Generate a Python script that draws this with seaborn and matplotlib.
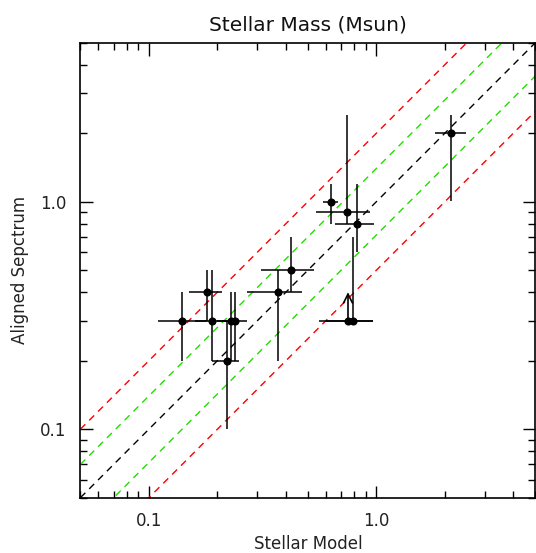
import numpy as np
import pandas as pd
import seaborn as sns
import matplotlib.pyplot as plt
from matplotlib.ticker import FixedLocator, FixedFormatter, LogLocator, NullFormatter

# values
model = [0.14, 0.18, 0.19, 0.22, 0.23, 0.24, 0.37, 0.42, 0.63, 0.74, 0.82, 0.75, 0.79, 2.13]
spec = [0.30, 0.40, 0.30, 0.20, 0.30, 0.30, 0.40, 0.50, 1.00, 0.90, 0.80, 0.30, 0.30, 2.00]
model_lo = [0.11, 0.15, 0.16, 0.19, 0.21, 0.20, 0.27, 0.31, 0.585, 0.54, 0.66, 0.56, 0.60, 1.80]
model_hi = [0.18, 0.21, 0.24, 0.25, 0.25, 0.27, 0.47, 0.53, 0.68, 0.94, 0.98, 0.97, 0.97, 2.47]
spec_lo = [0.20, 0.30, 0.20, 0.10, 0.20, 0.20, 0.20, 0.40, 0.80, 0.80, 0.60, 0.30, 0.30, 1.01]
spec_hi = [0.40, 0.50, 0.50, 0.30, 0.40, 0.40, 0.50, 0.70, 1.20, 2.40, 1.20, 0.30, 0.70, 2.40]

# lower limit (arrow)
limit_x = [0.75]
limit_from = [0.30]
limit_to = [0.40]

# one-to-one line and offsets
line_factors = [1.0, 1.4, 1 / 1.4, 2.0, 0.5]
line_colors = ['black', '#22dd00', '#22dd00', 'red', 'red']

df = pd.DataFrame({'model': model, 'spec': spec})

sns.set_style('ticks')
plt.rcParams['font.family'] = ['DejaVu Sans']
plt.rcParams['text.color'] = 'black'
plt.rcParams['axes.labelcolor'] = 'black'

fig, ax = plt.subplots(figsize=(5.36, 5.53), dpi=100)
fig.subplots_adjust(left=0.150, right=0.999, bottom=0.1, top=0.923)

grid = np.array([0.05, 5.0])
for f, c in zip(line_factors, line_colors):
    sns.lineplot(x=grid, y=grid * f, ax=ax, color=c, lw=1.0,
                 linestyle=(0, (5, 4)), zorder=1)

xerr = [np.array(model) - np.array(model_lo), np.array(model_hi) - np.array(model)]
yerr = [np.array(spec) - np.array(spec_lo), np.array(spec_hi) - np.array(spec)]
ax.errorbar(model, spec, xerr=xerr, yerr=yerr, fmt='none', ecolor='black',
            elinewidth=1.1, capsize=0, zorder=2)

sns.scatterplot(data=df, x='model', y='spec', ax=ax, color='black', s=34,
                edgecolor='black', linewidth=0, zorder=3)

for lx, lf, lt in zip(limit_x, limit_from, limit_to):
    ax.annotate('', xy=(lx, lt), xytext=(lx, lf),
                arrowprops=dict(arrowstyle='->', color='black', lw=1.2,
                                mutation_scale=16, shrinkA=0, shrinkB=0))

ax.set_xscale('log')
ax.set_yscale('log')
ax.set_xlim(0.05, 5)
ax.set_ylim(0.05, 5)

for axis in (ax.xaxis, ax.yaxis):
    axis.set_major_locator(FixedLocator([0.1, 1.0]))
    axis.set_major_formatter(FixedFormatter(['0.1', '1.0']))
    axis.set_minor_locator(LogLocator(base=10, subs=np.arange(2, 10)))
    axis.set_minor_formatter(NullFormatter())

ax.tick_params(which='both', direction='in', top=True, right=True,
               labelsize=12, colors='black', labelcolor='#222222', width=1)
ax.tick_params(which='major', length=9, pad=10)
ax.tick_params(which='minor', length=5)
for s in ax.spines.values():
    s.set_linewidth(1.2)
    s.set_color('black')

ax.set_xlabel('Stellar Model', fontsize=12, labelpad=4, color='#222222')
ax.set_ylabel('Aligned Sepctrum', fontsize=12, labelpad=8, color='#222222')
ax.set_title('Stellar Mass (Msun)', fontsize=14.5, pad=9, color='#111111')

fig.savefig('out.png', dpi=100)
